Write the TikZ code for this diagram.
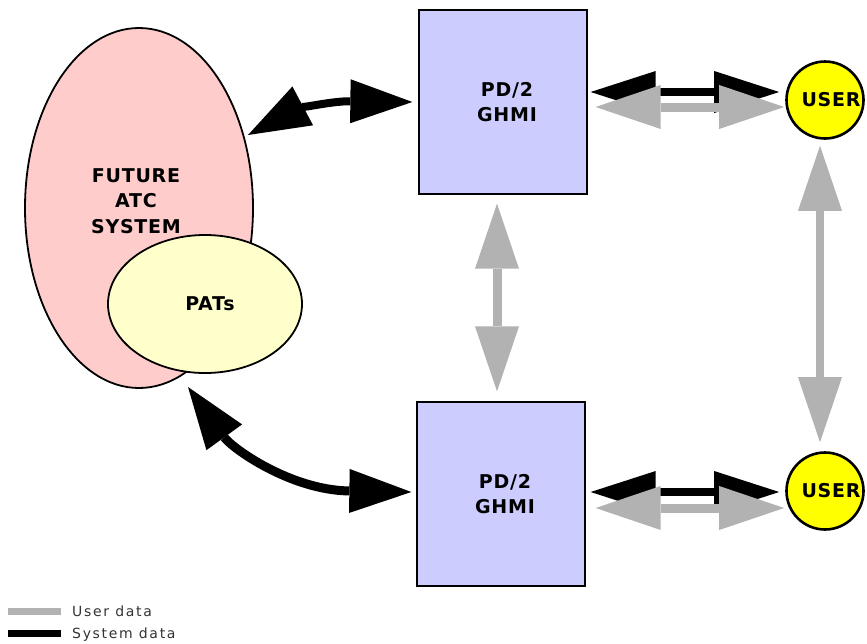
\documentclass[tikz,border=0pt]{standalone}
\usepackage{fontspec}
\setmainfont{DejaVu Sans}
\newfontfamily\lblfont[LetterSpace=4]{DejaVu Sans}
\newfontfamily\legfont[LetterSpace=12]{DejaVu Sans}
\usetikzlibrary{shapes.geometric,arrows.meta,calc}
\definecolor{pinkfill}{RGB}{255,204,204}
\definecolor{patfill}{RGB}{255,255,204}
\definecolor{boxfill}{RGB}{204,204,255}
\definecolor{userfill}{RGB}{255,255,0}
\definecolor{usergrey}{RGB}{178,178,178}
\tikzset{
  lbl/.style={font=\lblfont\bfseries\fontsize{19}{25.5}\selectfont, align=center, inner sep=0pt},
  bigell/.style={ellipse, draw=black, line width=1.8pt, fill=pinkfill, minimum width=228pt, minimum height=360pt, inner sep=0pt},
  patell/.style={ellipse, draw=black, line width=1.8pt, fill=patfill, minimum width=194pt, minimum height=138pt, inner sep=0pt},
  ghmi/.style={rectangle, draw=black, line width=1.3pt, fill=boxfill, minimum width=168pt, minimum height=184pt},
  usercirc/.style={circle, draw=black, line width=2.6pt, fill=userfill, minimum size=77pt, inner sep=0pt},
  sysarr/.style={draw=black, line width=8pt, {Triangle[length=65pt,width=42pt,line width=0pt]}-{Triangle[length=65pt,width=42pt,line width=0pt]}},
  usrarr/.style={draw=usergrey, line width=9pt, {Triangle[length=65pt,width=44pt,line width=0pt]}-{Triangle[length=65pt,width=44pt,line width=0pt]}},
  curvarr/.style={draw=black, line width=8pt, {Triangle[length=62pt,width=44pt,line width=0pt]}-{Triangle[length=62pt,width=44pt,line width=0pt]}},
  legline/.style={line width=7pt},
  legtxt/.style={font=\legfont\fontsize{14}{16}\selectfont, anchor=base west, inner sep=0pt, text=black!80},
}
\begin{document}
\begin{tikzpicture}[x=1pt,y=-1pt]
\useasboundingbox (0,0) rectangle (867,643);
% shapes
\node[bigell] (fut) at (139,208) {};
\node[lbl] (futtxt) at (136,201) {FUTURE\\ATC\\SYSTEM};
\node[patell] (pats) at (205,304) {};
\node[lbl] (patstxt) at ([xshift=5pt]pats.center) {PATs};
\node[ghmi] (top) at (503,102) {};
\node[ghmi] (bot) at (501,494) {};
\node[lbl] (toptxt) at ([xshift=4pt]top.center) {PD/2\\GHMI};
\node[lbl] (bottxt) at ([xshift=4pt]bot.center) {PD/2\\GHMI};
\node[usercirc] (u1) at (825,100) {};
\node[usercirc] (u2) at (825,491) {};
\node[lbl] (u1t) at ([xshift=6pt]u1.center) {USER};
\node[lbl] (u2t) at ([xshift=6pt]u2.center) {USER};
% free ends of curved arrows
\coordinate (c1) at (248,135);
\coordinate (c2) at (188,387);
% curved system arrows
\draw[curvarr] (c1) .. controls (295,110) and (330,101) .. ([xshift=-6pt]top.west);
\draw[curvarr, line width=9pt] (c2) .. controls (232,448) and (290,490) .. ([xshift=-5pt,yshift=2pt]bot.west);
% horizontal system arrows
\draw[sysarr] ([xshift=3pt,yshift=10pt]top.east) -- ([xshift=-6pt,yshift=8pt]u1.west);
\draw[sysarr] ([xshift=5pt,yshift=2pt]bot.east) -- ([xshift=-6pt,yshift=-1pt]u2.west);
% horizontal user arrows
\draw[usrarr] ([xshift=8pt,yshift=-5pt]top.east) -- ([xshift=-1pt,yshift=-7pt]u1.west);
\draw[usrarr] ([xshift=10pt,yshift=-14pt]bot.east) -- ([xshift=-1pt,yshift=-17pt]u2.west);
% vertical user arrows
\coordinate (m1) at ([xshift=-6pt,yshift=-9pt]top.south);
\coordinate (m2b) at ([yshift=10pt]bot.north);
\draw[usrarr] (m1) -- (m1 |- m2b);
\coordinate (r1) at ([xshift=-5pt,yshift=-6pt]u1.south);
\coordinate (r2b) at ([yshift=9pt]u2.north);
\draw[usrarr, line width=8pt] (r1) -- (r1 |- r2b);
% legend
\coordinate (lg1a) at (8,611);
\coordinate (lg1b) at (61,611);
\coordinate (lg2a) at (8,633);
\coordinate (lg2b) at (61,633);
\draw[legline, usergrey] (lg1a) -- (lg1b);
\draw[legline, black] (lg2a) -- (lg2b);
\node[legtxt] (leg1) at (72,616) {User data};
\node[legtxt] (leg2) at (72,638) {System data};
\end{tikzpicture}
\end{document}
